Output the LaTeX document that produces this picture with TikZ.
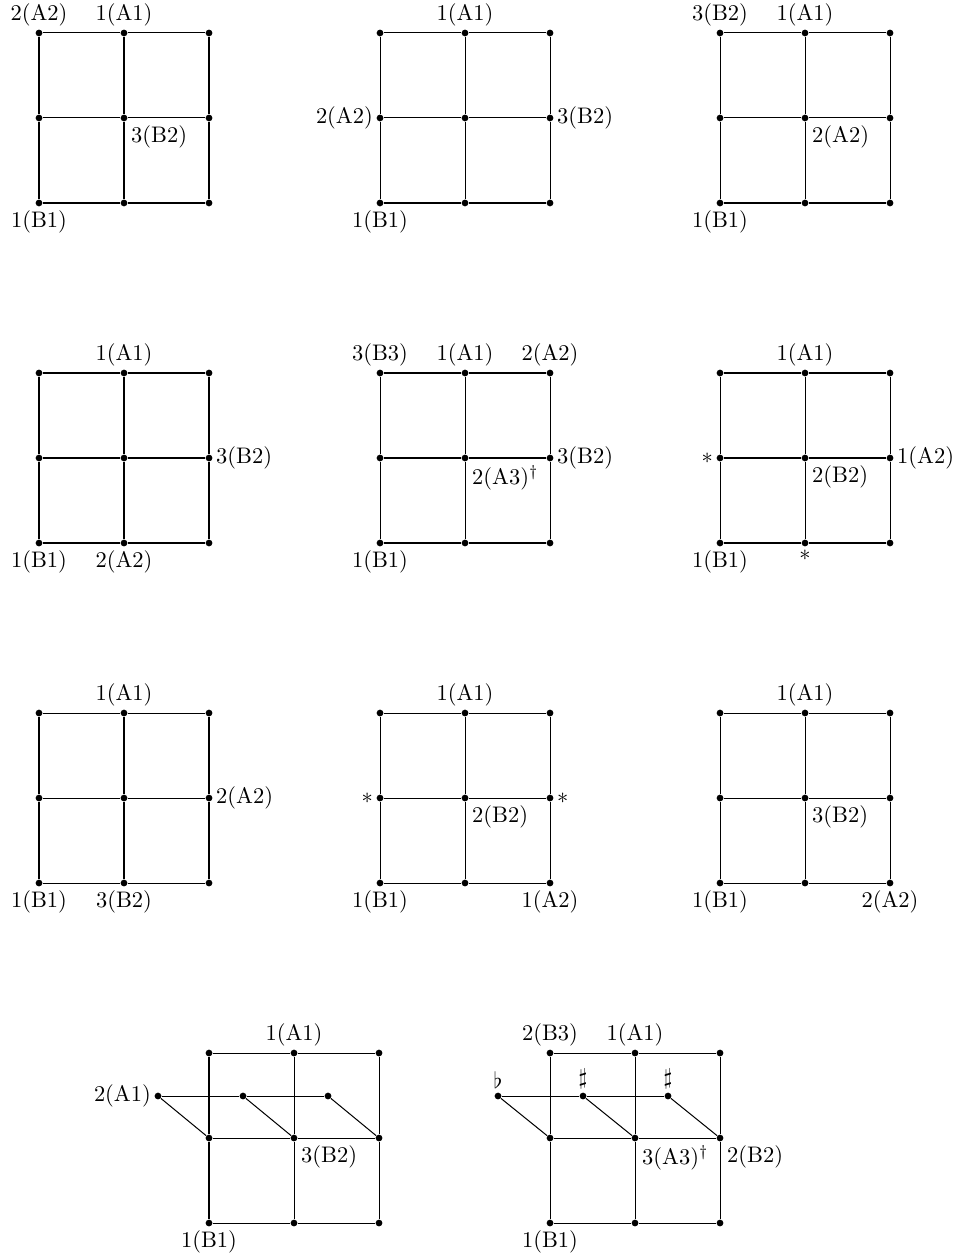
\documentclass[tikz,border=0pt]{standalone}
\tikzset{
  dot/.style={circle,fill=black,inner sep=0pt,minimum size=3pt},
  lbl/.style={inner sep=3pt},
  edge/.style={line width=0.45pt}
}
\newcommand\mkgrid[3]{%
  \foreach \i in {0,1,2}{\foreach \j in {0,1,2}{
    \node[dot] (#1-\i\j) at ({#2+85*\i},{#3+85*\j}) {};}}
  \foreach \j in {0,1,2}{\draw[edge] (#1-0\j) -- (#1-1\j) -- (#1-2\j);}
  \foreach \i in {0,1,2}{\draw[edge] (#1-\i0) -- (#1-\i1) -- (#1-\i2);}
}
\begin{document}
\begin{tikzpicture}[x=0.445pt,y=-0.445pt]
\useasboundingbox (0,0) rectangle (958,1257);
% Row 1
\mkgrid{ga}{39}{33}
\node[lbl,above] (ga-l1) at (ga-00) {2(A2)};
\node[lbl,above] (ga-l2) at (ga-10) {1(A1)};
\node[lbl,below right] (ga-l3) at (ga-11) {3(B2)};
\node[lbl,below] (ga-l4) at (ga-02) {1(B1)};

\mkgrid{gb}{380}{33}
\node[lbl,above] (gb-l1) at (gb-10) {1(A1)};
\node[lbl,left] (gb-l2) at (gb-01) {2(A2)};
\node[lbl,right] (gb-l3) at (gb-21) {3(B2)};
\node[lbl,below] (gb-l4) at (gb-02) {1(B1)};

\mkgrid{gc}{720}{33}
\node[lbl,above] (gc-l1) at (gc-00) {3(B2)};
\node[lbl,above] (gc-l2) at (gc-10) {1(A1)};
\node[lbl,below right] (gc-l3) at (gc-11) {2(A2)};
\node[lbl,below] (gc-l4) at (gc-02) {1(B1)};

% Row 2
\mkgrid{gd}{39}{373}
\node[lbl,above] (gd-l1) at (gd-10) {1(A1)};
\node[lbl,right] (gd-l2) at (gd-21) {3(B2)};
\node[lbl,below] (gd-l3) at (gd-02) {1(B1)};
\node[lbl,below] (gd-l4) at (gd-12) {2(A2)};

\mkgrid{ge}{380}{373}
\node[lbl,above] (ge-l1) at (ge-00) {3(B3)};
\node[lbl,above] (ge-l2) at (ge-10) {1(A1)};
\node[lbl,above] (ge-l3) at (ge-20) {2(A2)};
\node[lbl,below right] (ge-l4) at (ge-11) {2(A3)$^\dagger$};
\node[lbl,right] (ge-l5) at (ge-21) {3(B2)};
\node[lbl,below] (ge-l6) at (ge-02) {1(B1)};

\mkgrid{gf}{720}{373}
\node[lbl,above] (gf-l1) at (gf-10) {1(A1)};
\node[lbl,left] (gf-l2) at (gf-01) {$*$};
\node[lbl,below right] (gf-l3) at (gf-11) {2(B2)};
\node[lbl,right] (gf-l4) at (gf-21) {1(A2)};
\node[lbl,below] (gf-l5) at (gf-02) {1(B1)};
\node[lbl,below] (gf-l6) at (gf-12) {$*$};

% Row 3
\mkgrid{gg}{39}{713}
\node[lbl,above] (gg-l1) at (gg-10) {1(A1)};
\node[lbl,right] (gg-l2) at (gg-21) {2(A2)};
\node[lbl,below] (gg-l3) at (gg-02) {1(B1)};
\node[lbl,below] (gg-l4) at (gg-12) {3(B2)};

\mkgrid{gh}{380}{713}
\node[lbl,above] (gh-l1) at (gh-10) {1(A1)};
\node[lbl,left] (gh-l2) at (gh-01) {$*$};
\node[lbl,below right] (gh-l3) at (gh-11) {2(B2)};
\node[lbl,right] (gh-l4) at (gh-21) {$*$};
\node[lbl,below] (gh-l5) at (gh-02) {1(B1)};
\node[lbl,below] (gh-l6) at (gh-22) {1(A2)};

\mkgrid{gi}{720}{713}
\node[lbl,above] (gi-l1) at (gi-10) {1(A1)};
\node[lbl,below right] (gi-l2) at (gi-11) {3(B2)};
\node[lbl,below] (gi-l3) at (gi-02) {1(B1)};
\node[lbl,below] (gi-l4) at (gi-22) {2(A2)};

% Row 4
\mkgrid{gj}{209}{1053}
\node[dot] (gj-e0) at (158,1096) {};
\node[dot] (gj-e1) at (243,1096) {};
\node[dot] (gj-e2) at (328,1096) {};
\draw[edge] (gj-e0) -- (gj-e1) -- (gj-e2);
\draw[edge] (gj-e0) -- (gj-01);
\draw[edge] (gj-e1) -- (gj-11);
\draw[edge] (gj-e2) -- (gj-21);
\node[lbl,above] (gj-l1) at (gj-10) {1(A1)};
\node[lbl,left] (gj-l2) at (gj-e0) {2(A1)};
\node[lbl,below right] (gj-l3) at (gj-11) {3(B2)};
\node[lbl,below] (gj-l4) at (gj-02) {1(B1)};

\mkgrid{gk}{550}{1053}
\node[dot] (gk-e0) at (498,1096) {};
\node[dot] (gk-e1) at (583,1096) {};
\node[dot] (gk-e2) at (668,1096) {};
\draw[edge] (gk-e0) -- (gk-e1) -- (gk-e2);
\draw[edge] (gk-e0) -- (gk-01);
\draw[edge] (gk-e1) -- (gk-11);
\draw[edge] (gk-e2) -- (gk-21);
\node[lbl,above] (gk-l1) at (gk-00) {2(B3)};
\node[lbl,above] (gk-l2) at (gk-10) {1(A1)};
\node[lbl,above] (gk-l3) at (gk-e0) {$\flat$};
\node[lbl,above] (gk-l4) at (gk-e1) {$\sharp$};
\node[lbl,above] (gk-l5) at (gk-e2) {$\sharp$};
\node[lbl,below right] (gk-l6) at (gk-11) {3(A3)$^\dagger$};
\node[lbl,below right] (gk-l7) at (gk-21) {2(B2)};
\node[lbl,below] (gk-l8) at (gk-02) {1(B1)};
\end{tikzpicture}
\end{document}
